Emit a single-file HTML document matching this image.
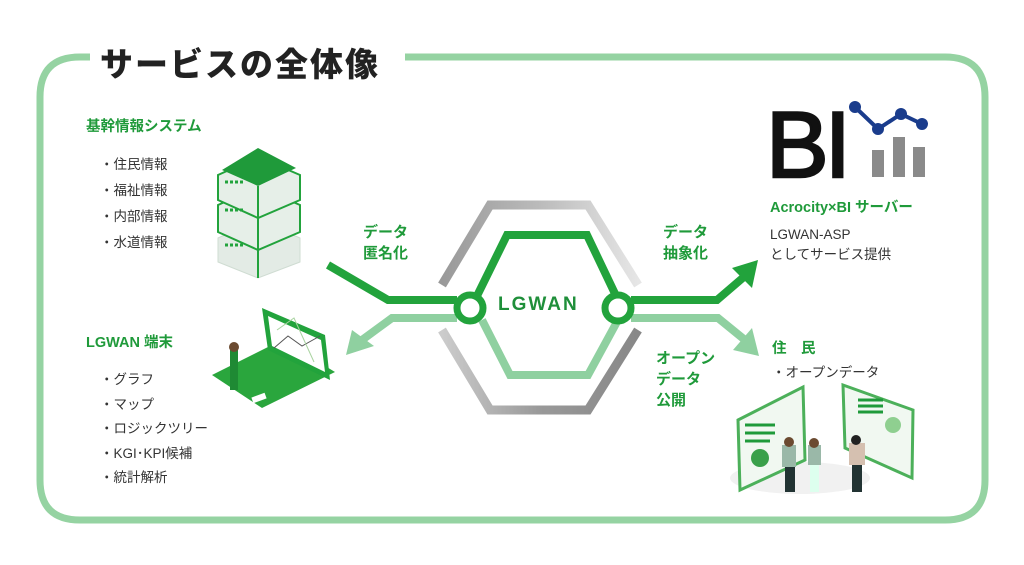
<!DOCTYPE html>
<html><head><meta charset="utf-8"><style>
body{margin:0;width:1024px;height:565px;background:#fff;overflow:hidden;font-family:"Liberation Sans","Noto Sans CJK JP",sans-serif;}
svg{position:absolute;left:0;top:0}
.t{position:absolute;white-space:nowrap}
.g{color:#1f9a3a;font-weight:bold}
.k{color:#333;font-size:13.5px}
</style></head><body>
<svg width="1024" height="565">
<defs>
<linearGradient id="gr" x1="0" x2="1"><stop offset="0" stop-color="#999"/><stop offset="0.5" stop-color="#bbb"/><stop offset="1" stop-color="#e6e6e6"/></linearGradient>
<linearGradient id="gr2" x1="0" x2="1"><stop offset="0" stop-color="#ccc"/><stop offset="0.5" stop-color="#999"/><stop offset="1" stop-color="#888"/></linearGradient>
</defs>
<path d="M90 57 H80 Q40 57 40 97 V480 Q40 520 80 520 H945 Q985 520 985 480 V97 Q985 57 945 57 H405" fill="none" stroke="#95d3a2" stroke-width="7"/>
<path d="M442 285 L490 205 L588 205 L638 285" fill="none" stroke="url(#gr)" stroke-width="9"/>
<path d="M442 330 L490 410 L588 410 L638 330" fill="none" stroke="url(#gr2)" stroke-width="9"/>
<path d="M482 320 L510 375 L588 375 L618 320" fill="none" stroke="#8fd0a0" stroke-width="8"/>
<path d="M457 318 H392 L362 340" fill="none" stroke="#8fd0a0" stroke-width="8"/>
<polygon points="346,355 352,330 374,346" fill="#8fd0a0"/>
<path d="M631 318 H718 L745 340" fill="none" stroke="#8fd0a0" stroke-width="8"/>
<polygon points="759,356 733,350 752,328" fill="#8fd0a0"/>
<path d="M475 300 L507 235 L587 235 L618 300" fill="none" stroke="#22a33c" stroke-width="8"/>
<path d="M328 265 L388 300 H457" fill="none" stroke="#22a33c" stroke-width="8"/>
<path d="M631 300 H717 L745 276" fill="none" stroke="#22a33c" stroke-width="8"/>
<polygon points="758,260 752,288 732,268" fill="#22a33c"/>
<circle cx="470" cy="308" r="13" fill="#fff" stroke="#22a33c" stroke-width="7"/>
<circle cx="618" cy="308" r="13" fill="#fff" stroke="#22a33c" stroke-width="7"/>
<g>
<path d="M218 238 L258 220 L300 238 L300 262 L258 278 L218 262Z" fill="#e3ebe5" stroke="#cfdcd2" stroke-width="1"/>
<path d="M218 205 L258 187 L300 205 L300 232 L258 250 L218 232Z" fill="#e6efe8" stroke="#22a33c" stroke-width="2"/>
<path d="M218 175 L258 157 L300 175 L300 200 L258 218 L218 200Z" fill="#e6efe8" stroke="#22a33c" stroke-width="2"/>
<path d="M222 170 L258 148 L296 168 L258 186Z" fill="#1f9a3a"/>
<line x1="258" y1="186" x2="258" y2="278" stroke="#22a33c" stroke-width="2"/>
<path d="M225 182h18M225 210h18M225 245h18" stroke="#22a33c" stroke-width="3" stroke-dasharray="3 2"/>
</g>
<path d="M212 375 L262 408 L335 372 L282 340Z" fill="#2aa63d"/>
<path d="M262 308 L325 335 L330 380 L268 350Z" fill="#22a33c"/>
<path d="M268 316 L321 340 L325 372 L272 346Z" fill="#fff"/>
<path d="M274 348 L288 336 L302 346 L320 336" stroke="#555" fill="none"/>
<path d="M277 330 L294 318 L314 362" stroke="#a9d3a0" fill="none"/>
<rect x="230" y="350" width="8" height="40" fill="#1f8a34"/>
<circle cx="234" cy="347" r="5" fill="#6b4a30"/>
<rect x="252" y="395" width="14" height="6" fill="#fff" transform="rotate(-20 259 398)"/>
<text x="766" y="177" font-family="Liberation Sans" font-size="94" letter-spacing="-4" fill="#111" stroke="#111" stroke-width="2.5">BI</text>
<rect x="872" y="150" width="12" height="27" fill="#8a8a8a"/>
<rect x="893" y="137" width="12" height="40" fill="#8a8a8a"/>
<rect x="913" y="147" width="12" height="30" fill="#8a8a8a"/>
<path d="M855 107 L878 129 L901 114 L922 124" stroke="#1a3c8c" stroke-width="4" fill="none"/>
<circle cx="855" cy="107" r="6" fill="#1a3c8c"/><circle cx="878" cy="129" r="6" fill="#1a3c8c"/><circle cx="901" cy="114" r="6" fill="#1a3c8c"/><circle cx="922" cy="124" r="6" fill="#1a3c8c"/>
<ellipse cx="800" cy="478" rx="70" ry="16" fill="#f1f1f1"/>
<path d="M738 420 L803 387 L805 460 L740 490Z" fill="#f1f8f1" stroke="#4cb05a" stroke-width="3"/>
<path d="M745 425h30M745 433h30M745 441h25" stroke="#1f9a3a" stroke-width="3"/>
<circle cx="760" cy="458" r="9" fill="#3aa04a"/>
<path d="M843 385 L913 410 L912 478 L845 448Z" fill="#f1f8f1" stroke="#4cb05a" stroke-width="3"/>
<path d="M858 400h25M858 406h25M858 412h25" stroke="#1f9a3a" stroke-width="3"/>
<circle cx="893" cy="425" r="8" fill="#8fcf90"/>
<rect x="785" y="450" width="10" height="42" fill="#233"/><rect x="782" y="445" width="14" height="22" fill="#9ab8a8"/><circle cx="789" cy="442" r="5" fill="#6b4a30"/>
<rect x="810" y="452" width="9" height="40" fill="#dfe"/><rect x="808" y="445" width="13" height="20" fill="#9ab8a8"/><circle cx="814" cy="443" r="5" fill="#6b4a30"/>
<rect x="852" y="458" width="10" height="34" fill="#233"/><rect x="849" y="443" width="16" height="22" fill="#d5c0b0"/><circle cx="856" cy="440" r="5" fill="#222"/>
</svg>
<div class="t" style="left:100px;top:38px;font-size:33px;font-weight:900;color:#222;letter-spacing:2px">サービスの全体像</div>
<div class="t g" style="left:86px;top:115px;font-size:14.5px">基幹情報システム</div>
<div class="t k" style="left:100px;top:152px;line-height:26px">・住民情報<br>・福祉情報<br>・内部情報<br>・水道情報</div>
<div class="t g" style="left:363px;top:222px;font-size:15px;line-height:21px">データ<br>匿名化</div>
<div class="t g" style="left:663px;top:222px;font-size:15px;line-height:21px">データ<br>抽象化</div>
<div class="t g" style="left:656px;top:348px;font-size:15px;line-height:21px">オープン<br>データ<br>公開</div>
<div class="t" style="left:498px;top:294px;font-size:19px;font-weight:bold;color:#1f8f3a;letter-spacing:2px">LGWAN</div>
<div class="t g" style="left:86px;top:331px;font-size:14.5px">LGWAN 端末</div>
<div class="t k" style="left:100px;top:368px;line-height:24.5px">・グラフ<br>・マップ<br>・ロジックツリー<br>・KGI･KPI候補<br>・統計解析</div>
<div class="t g" style="left:770px;top:196px;font-size:14.5px">Acrocity×BI サーバー</div>
<div class="t k" style="left:770px;top:225px;line-height:20px">LGWAN-ASP<br>としてサービス提供</div>
<div class="t g" style="left:772px;top:337px;font-size:14.5px">住　民</div>
<div class="t k" style="left:772px;top:361px">・オープンデータ</div>
</body></html>
